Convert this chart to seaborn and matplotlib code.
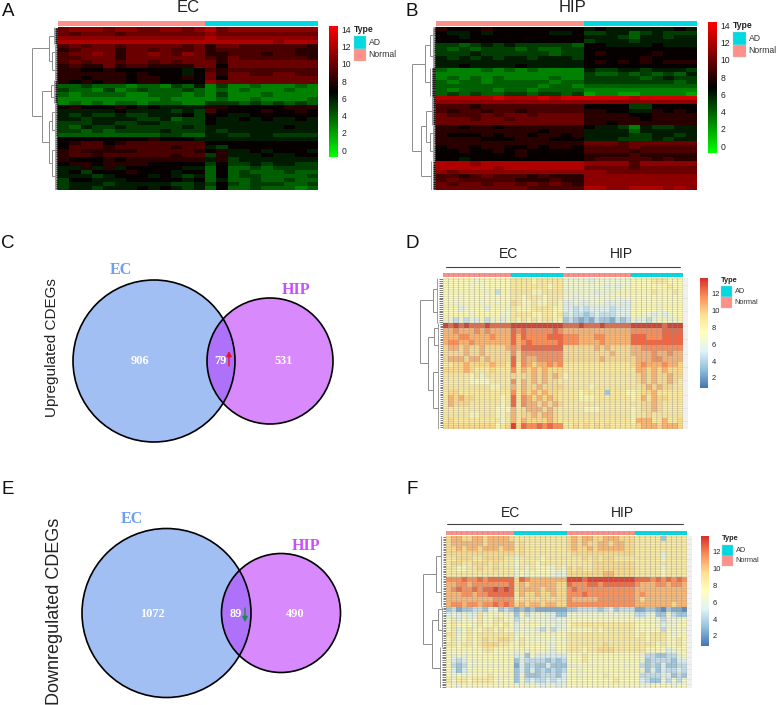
import numpy as np
import pandas as pd
import matplotlib
matplotlib.use("Agg")
import matplotlib.pyplot as plt
from matplotlib.colors import LinearSegmentedColormap, ListedColormap
from matplotlib.patches import Circle, Rectangle
import seaborn as sns

sns.set_theme(style="white")
plt.rcParams['font.family'] = ['Liberation Sans', 'DejaVu Sans']

W, H = 777, 705
NORMAL_COL, AD_COL = '#FD9089', '#00D9E0'
EC_FILL, HIP_FILL, BOTH_FILL = '#A1BFF2', '#D889FB', '#AE72FA'
EC_TEXT, HIP_TEXT = '#6C9FF0', '#C850FC'

# Expression levels per row, one hex digit per sample (0-14 = 0..e).
# Groups are separated by spaces: Normal, AD (with the two odd AD samples apart in A)
A_ROWS = [
"abbbabbaabbab ca bbbbbbbb","a9aaa9aaaaaaa ba aaaaaaaa","bbbbbbbbbbbbb cb bbbbbbbb",
"ccccccccccccc cc ccccbccc","9a9aa9aaaaa9a 8a a9999998","89aaa8aa9a99a 89 99999988",
"9aaba8aaba9ba 88 99989988","99aaa8aaaaaaa 98 a9999998","9a9aa9aa9a9aa a8 aaaaaaaa",
"8988a8998888a a7 aaaaaaaa","8877877777767 98 99999999","8888887877767 a8 aa99aa99",
"8878887887787 a7 aaaaaaaa","8787887887777 ba aaaaaaaa","4454443443546 35 33433343",
"5443534544454 34 34333433","4344443344434 35 33343333","3333333334333 34 33433334",
"3434344344433 55 54545454","7877787676666 88 77777888","6666676666565 97 77787787",
"6565565566675 77 66777777","6656666556455 76 67676676","5556655665555 76 66666666",
"5465565555565 66 66666766","5545455556555 65 66666666","4444444445544 66 55665555",
"7777777787776 66 66666666","7899789999999 77 77777777","7999899999899 65 77777777",
"8988888999998 78 66767776","8998999999899 58 66676677","8777878888888 68 56666666",
"7887888877777 57 55656655","6686867777766 47 44545555","6757778777677 47 45444544",
"6665677767656 47 45544445","5776667777767 46 44544544","5666566666556 57 54555445",
"5665666767656 47 44544434",
]
B_ROWS = [
"8777877777777 6766666676","7667677777667 5566456555","7767777777777 6665466566",
"7777777777777 5666566666","5545656555554 7766667666","5454555454455 7777777777",
"5556555555455 7877778777","6565656656665 7777787777","6666666666666 7878787888",
"6676666766666 7777777777","4333434343333 6556656665","3333333333333 5445454546",
"3434343333433 5555545655","4344344444344 5555555545","4444444443443 4444444444",
"4344434434444 3333333333","4545445545545 2332233332","cccccdcccdcdd ddddcddddd",
"bbbbbbbbbbbbb bbbbbbbbbb","9998999999999 7777557777","9899899899999 8877668787",
"a999a9aa9aaaa 8888778888","aaa9aa9aaaaaa 8888878888","aaaaaaaaaaaaa 8878888888",
"8878878888888 7665365566","8888888887888 6666466666","8777878878878 6666556656",
"8888777888777 6665556566","8888888888888 aaa9aaaaaa","7887887787887 9999a99999",
"7787787877777 9999899999","7777777877777 8888988888","7767777777777 8999998988",
"cccbccccccccc bbbb9bbbbb","cccccbccccccc aaaa9aaaaa","babbbbbbbbbbb bbaaaaaaaa",
"9989a99989888 bbbbbbbbbb","9a99999888988 bbbbbbbbbb","a9aa9aa9a9a98 bbbbbbbbbb",
"aaaaaaaa99999 ccbbcccbcb",
]
D_ROWS = [
"7777776777777 8888788888 6666656666666 7777888777",
"7777767677777 8888888788 6666666656566 7777777877",
"7777777767477 8888778888 6666665666777 7777877787",
"7776777777777 8878887888 6656666667666 7777777777",
"7767777677677 9877877887 5565566655655 7777777777",
"7775677757776 8777888877 5545455554555 7777767777",
"7777767777766 8888778878 4544345444555 7766565677",
"6646465746757 8787878877 3432324332434 6564677667",
"dcdcdcccdcccc dddddddddd cccdcccdccccc ddddddcddd",
"aabaaababaaaa cbcbbbbbcb aaaaaaaaaaaaa bbbbbbcccc",
"aaabbaaaabaaa cacbbbbccc bbbaaabbaaaaa cccbbbcccc",
"abbaabaaaaaaa cabcbbbbbc bbbaaaabaaaaa cccccccccc",
"9aa9a99a9999a bacccccccc 999999a9a9999 aabbbbbbbb",
"9999a99a99999 b9bbbbbbbb 999999999a999 aaaabaabaa",
"9aaa9aa9a9999 c9baabbbbb 9999999a99999 9aaabbaaaa",
"8899a9999a998 c8ba9aabab 8888888888888 9abaaabaa9",
"9999a98889888 b8a9a9a999 8888888888888 8aa9a9a999",
"8888878688888 9899a9a9a9 7888888888888 89a9a99a99",
"8888877778888 b8a9a9a998 8888888888888 89a9a99a98",
"8888888887788 a8a99a9999 8888878888888 889a9a9988",
"8998888888888 b8a9a9a998 8887888838887 7899a88888",
"8a9a998888878 c8ba9a9a98 8887778888888 78a8a99888",
"8a99988888878 c8baa9a9a9 8888888888888 8899a98888",
"8888888888777 a89aaa9a98 8888777888888 7899a98888",
"8888877888778 a899a9aa98 8888888888888 7889888888",
"8988888888868 a8a9999a98 8888888888888 7aaa88a889",
"9999999999789 d9cbbcbcbb 8898989898888 89aaa9aaa9",
]
F_ROWS = [
"9aa99aa9aaaa9 8888888888 9a9aa99aaa999 8888838888",
"9aaaaaa9aaaaa 8988888888 9a9a99aa9aa99 8888888888",
"99a9aa9aaa9aa 8988888888 9a99a9aaaaa99 8888888888",
"9999999999999 8988888888 8999999999999 8888858888",
"8899988999988 6888878888 8889898998888 8888868888",
"8998899989888 7888788888 8888899999999 8888888888",
"8877889889888 6868777686 9898899999999 8888868888",
"8888888888888 6767777656 9999999aa9999 8888878888",
"bbbcbbcbccccc 9cbaaaaaaa dddcddddddddd cccbcbcbcb",
"aabbabbbbbbbc 9a9aaaaa99 cbbbccbcccccc baaabbabba",
"abcbbcbccdcdc 9aaaa9aa99 bcbbbbbbbbbbb aaaaaaaaaa",
"aaabbabbccccc 8a99a99a99 bbbcbbbbbbbbb abaaaaaaaa",
"aaaaaaaaabbbb 8999999999 baaaaabbbbbbb a9aaaaaaaa",
"abbabbabbcbcb 9a9aa9aa99 bbbbbbbbbbbbb aaaaaaa9aa",
"3423344356343 2323222222 3344443453444 2233213221",
"5656558676766 3746665533 6666666666666 4456336433",
"7857678778877 4676666566 7777777777777 7777646667",
"7877768778787 5767766656 7888888888888 7777656677",
"7857877887877 5666546466 7777787888888 7777747676",
"8867878888888 6767677677 8888888888888 7878887677",
"7867878988998 6876767676 8888888888888 8878887787",
"8878878999887 7877776677 8888888988888 8888787787",
"7777777887777 6767776577 8887889998888 8877775677",
"7676777777777 5637555555 7778777777777 7644334467",
"7545767777777 3544443434 7778777777777 7634444355",
"7434767767677 2534335333 6677677777767 7434353344",
"7535677777777 3535343434 7767777777777 7635354454",
"7676777787767 3633344435 7767777877777 7444455343",
"8688788887677 3645445455 7777777778777 7543364646",
"7767777777777 6767656656 7777777777777 7667777677",
]
SAMPLES_NORMAL = 13
SAMPLES_AD = 10
CBAR_TICKS_GN = [0, 2, 4, 6, 8, 10, 12, 14]
CBAR_TICKS_RB = [2, 4, 6, 8, 10, 12]
UP_COUNTS = [906, 79, 531]
DOWN_COUNTS = [1072, 89, 490]

# Dendrograms: (height, child, child); a list [height, first_row, last_row] is a leaf fan
TREE_A = (26, (9, [4, 0, 4], (6, [3, 4, 8], [3, 8, 13])),
          (16, (7, [4, 13, 15.5], [4, 15.5, 18.5]),
           (9, (6, [3, 18.5, 23], [3, 23, 27.5]), (6, [3, 27.5, 33], [3, 33, 40]))))
TREE_B = (24, (11, (6, [3, 0, 4], [3, 4, 10]), [6, 10, 17]),
          (15, (10, [4, 17, 24], (6, [3, 24, 28], [3, 28, 33])), [5, 33, 40]))
TREE_D = (23, (10, [6, 0, 4], [6, 4, 8]),
          (15, (9, [5, 8, 10], [5, 10, 14]), (10, [5, 14, 19.5], [5, 19.5, 27])))
TREE_F = (23, (10, [5, 0, 8], [5, 8, 14]),
          (14, (8, [4, 14, 15], [4, 15, 22]), [6, 22, 30]))

fig = plt.figure(figsize=(W / 100, H / 100), dpi=100)
fig.patch.set_facecolor('white')


def px_axes(x0, y0, x1, y1, **kw):
    return fig.add_axes([x0 / W, 1 - y1 / H, (x1 - x0) / W, (y1 - y0) / H], **kw)


def decode(rows):
    return np.array([[int(c, 16) for c in r.replace(' ', '')] for r in rows], dtype=float)


def draw_tree(ax, node, color, leaf_color, per_row):
    if isinstance(node, list):
        h, a, b = node
        ax.plot([h, h], [a, b], color=color, lw=0.6, solid_capstyle='butt')
        ys = np.arange(a, b, 1 / per_row) + 0.5 / per_row
        ax.hlines(ys, h * 0.7, 0, color=leaf_color, lw=0.55)
        return (a + b) / 2
    h, left, right = node
    ys = []
    for child in (left, right):
        y = draw_tree(ax, child, color, leaf_color, per_row)
        ax.plot([h, child[0]], [y, y], color=color, lw=0.7, solid_capstyle='butt')
        ys.append(y)
    ax.plot([h, h], ys, color=color, lw=0.7, solid_capstyle='butt')
    return sum(ys) / 2


def thin_grid(ax, nrow, ncol):
    ax.vlines(np.arange(ncol + 1), 0, nrow, color='#8f8f8f', lw=0.35, alpha=0.8, snap=False)
    if nrow > 1:
        ax.hlines(np.arange(nrow + 1), 0, ncol, color='#8f8f8f', lw=0.3, alpha=0.55, snap=False)


def panel(rows, box, bar, cbar, cbar_range, ticks, cmap, tree, splits, repeat=1, grid=False,
          per_row=6, leaf='#111111', fs=6.2, shift=0.0):
    x0, y0, x1, y1 = box
    mat = decode(rows) + shift
    n = len(rows)
    data = pd.DataFrame(np.repeat(mat, repeat, axis=0))
    ax = px_axes(x0, y0, x1, y1)
    cax = px_axes(*cbar)
    sns.heatmap(data, ax=ax, cmap=cmap, vmin=cbar_range[0], vmax=cbar_range[1], cbar_ax=cax,
                xticklabels=False, yticklabels=False)
    cax.set_yticks(ticks)
    cax.tick_params(length=0, labelsize=fs, pad=2.5, colors='#222222')
    for s in cax.spines.values():
        s.set_visible(False)
    if grid:
        thin_grid(ax, data.shape[0], data.shape[1])
        ax.yaxis.tick_right()
        ax.set_yticks(np.arange(data.shape[0]) + 0.5, labels=[])
        ax.tick_params(axis='y', right=True, left=False, length=3.5, width=0.35,
                       color='#c4c4c4', pad=0)
    # annotation bar
    ann = px_axes(x0, bar[0], x1, bar[1])
    sns.heatmap(pd.DataFrame([splits]), ax=ann, cmap=ListedColormap([NORMAL_COL, AD_COL]),
                vmin=0, vmax=1, cbar=False, xticklabels=False, yticklabels=False)
    if grid:
        thin_grid(ann, 1, len(splits))
    # dendrogram
    width = tree[0] + 1
    dax = px_axes(x0 - width, y0, x0, y1)
    dax.set_xlim(width, 0)
    dax.set_ylim(n, 0)
    dax.axis('off')
    draw_tree(dax, tree, '#8c8c8c', leaf, per_row)
    return ax


def groups(k):
    return ([0] * SAMPLES_NORMAL + [1] * SAMPLES_AD) * k


GBR = LinearSegmentedColormap.from_list('gbr', ['#00ff00', '#000000', '#ff0000'])
RYB = LinearSegmentedColormap.from_list(
    'ryb', ['#4575B4', '#91BFDB', '#E0F3F8', '#FFFFBF', '#FEE090', '#FC8D59', '#D73027'])

panel(A_ROWS, (58, 27.5, 318, 190), (21, 26), (329, 26, 338, 157), (-0.8, 14.4), CBAR_TICKS_GN,
      GBR, TREE_A, groups(1))
panel(B_ROWS, (436, 27, 697, 190), (20.5, 25.5), (708, 22, 717, 153), (-0.8, 14.4), CBAR_TICKS_GN,
      GBR, TREE_B, groups(1))
panel(D_ROWS, (443, 278, 683, 429), (273, 277), (700, 278, 708, 388), (0.8, 13.9), CBAR_TICKS_RB,
      RYB, TREE_D, groups(2), repeat=3, grid=True, per_row=3, leaf='#555555', fs=5.4, shift=0.6)
panel(F_ROWS, (446, 536, 687, 688), (531, 535), (701, 536, 709, 646), (0.8, 13.9), CBAR_TICKS_RB,
      RYB, TREE_F, groups(2), repeat=3, grid=True, per_row=3, leaf='#555555', fs=5.4, shift=0.5)

# overlay in pixel units for Venns, titles, legends
ov = fig.add_axes([0, 0, 1, 1], zorder=5)
ov.set_xlim(0, W)
ov.set_ylim(H, 0)
ov.axis('off')
ov.patch.set_alpha(0)


def venn(c1, r1, c2, r2, counts, xs, y, lab1, lab2):
    a = Circle(c1, r1, fc=EC_FILL, ec='none')
    b = Circle(c2, r2, fc=HIP_FILL, ec='none')
    ov.add_patch(a)
    ov.add_patch(b)
    both = Circle(c2, r2, fc=BOTH_FILL, ec='none')
    ov.add_patch(both)
    both.set_clip_path(Circle(c1, r1, transform=ov.transData))
    ov.add_patch(Circle(c1, r1, fc='none', ec='black', lw=1.2))
    ov.add_patch(Circle(c2, r2, fc='none', ec='black', lw=1.2))
    for x, v in zip(xs, counts):
        ov.text(x, y, str(v), color='white', fontsize=8.8, fontweight='bold',
                family='Liberation Serif', ha='center', va='center')
    ov.text(*lab1, 'EC', color=EC_TEXT, fontsize=11.5, fontweight='bold',
            family='Liberation Serif', ha='center', va='center')
    ov.text(*lab2, 'HIP', color=HIP_TEXT, fontsize=11.5, fontweight='bold',
            family='Liberation Serif', ha='center', va='center')


venn((154, 361), 81, (270, 361), 63, UP_COUNTS, (140, 220, 284), 361.5, (121, 270), (296, 290))
venn((166.5, 613), 84.5, (281, 613), 59.5, DOWN_COUNTS, (152, 236, 295), 614, (132, 519), (306, 546))
ov.annotate('', xy=(229, 351), xytext=(229, 366),
            arrowprops=dict(arrowstyle='-|>,head_width=0.13,head_length=0.25', color='#E8102A', lw=1, shrinkA=0, shrinkB=0))
ov.annotate('', xy=(245, 622), xytext=(245, 608),
            arrowprops=dict(arrowstyle='-|>,head_width=0.13,head_length=0.25', color='#1B8A4A', lw=1, shrinkA=0, shrinkB=0))

ov.text(52, 348, 'Upregulated CDEGs', rotation=90, fontsize=11, color='#222222', ha='center', va='center')
ov.text(55, 611.5, 'Downregulated CDEGs', rotation=90, fontsize=13, color='#222222', ha='center', va='center')

for s, x, y in [('A', 8, 12), ('B', 412, 12), ('C', 8, 243), ('D', 412, 243), ('E', 8, 490), ('F', 412, 490)]:
    ov.text(x, y, s, fontsize=13.5, color='#111111', ha='center', va='center')

ov.text(188, 8, 'EC', fontsize=12, color='#222222', ha='center', va='center')
ov.text(573, 8, 'HIP', fontsize=12, color='#222222', ha='center', va='center')
for t, xm, a, b, y, ty in [('EC', 509, 446, 559, 266.5, 254), ('HIP', 621, 566, 680, 266.5, 254),
                           ('EC', 511, 447, 561, 524, 513), ('HIP', 622, 570, 683, 524, 513)]:
    ov.text(xm, ty, t, fontsize=10, color='#222222', ha='center', va='center')
    ov.plot([a, b], [y, y], color='#444444', lw=0.8)


def legend(x, ytitle, y0, bh, bw, fs):
    ov.text(x, ytitle, 'Type', fontsize=fs, fontweight='bold', color='#222222', ha='left', va='center')
    for i, (c, lab) in enumerate([(AD_COL, 'AD'), (NORMAL_COL, 'Normal')]):
        ov.add_patch(Rectangle((x, y0 + i * bh), bw, bh, fc=c, ec='#c8c8c8', lw=0.3))
        ov.text(x + bw + 2.5, y0 + (i + 0.5) * bh, lab, fontsize=fs, color='#333333', ha='left', va='center')


legend(354, 30, 36, 12.5, 12, 6.2)
legend(733, 26, 32, 12.5, 13, 6.2)
legend(721, 281, 286, 11, 11, 5.3)
legend(722, 539, 545, 10.5, 11, 5.3)

fig.savefig('out.png', dpi=100)
